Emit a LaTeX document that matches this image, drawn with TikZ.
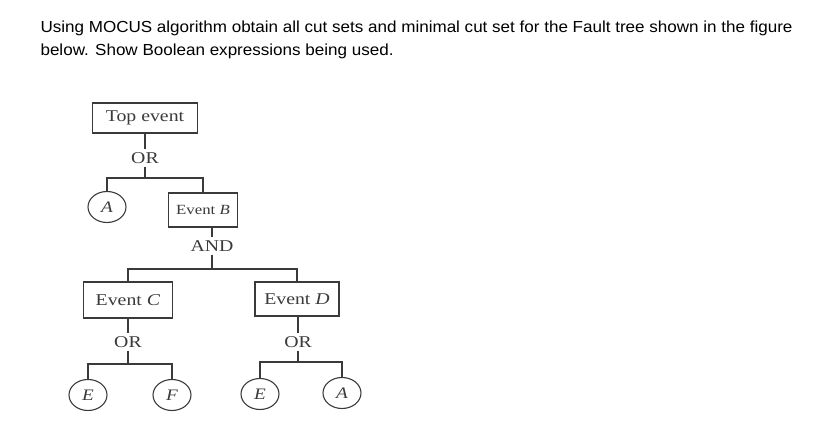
\documentclass[tikz,border=0pt]{standalone}
\usepackage{fontspec}
\setmainfont[FakeStretch=1.065]{Liberation Sans}
\newfontfamily\treefont[FakeStretch=1.2]{Liberation Serif}
\usetikzlibrary{shapes.geometric}
\tikzset{
every picture/.style={
line width=1.1bp
}}
\definecolor{scan}{HTML}{3A3A3A}

\begin{document}
\begin{tikzpicture}[x=1bp, y=-1bp,
block/.style = {rectangle, draw=scan, inner sep=0pt, font=\treefont\fontsize{16.5bp}{18bp}\selectfont, text=scan},
gate/.style = {inner sep=2.5bp, font=\treefont\fontsize{16.5bp}{18bp}\selectfont, text=scan},
basic/.style = {ellipse, draw=scan, inner sep=0pt, minimum width=38bp, minimum height=31bp, font=\treefont\itshape\fontsize{16bp}{18bp}\selectfont, text=scan}]
\useasboundingbox (0,0) rectangle (839,436);

\node[anchor=base west, align=left, inner sep=0pt, font=\fontsize{16bp}{23.5bp}\selectfont] at (40,56) (question)
  {Using MOCUS algorithm obtain all cut sets and minimal cut set for the Fault tree shown in the figure\\
   below. Show Boolean expressions being used.};

\node[block, minimum width=105bp, minimum height=30bp] at (145,118) (top) {Top event};
\node[gate] at (145,158) (or1) {OR};
\coordinate (j1) at (145,178);
\node[basic] at (107,207) (a1) {A};
\node[block, minimum width=69bp, minimum height=34bp, font=\treefont\fontsize{14bp}{16bp}\selectfont] at (203,210) (evb) {Event \textit{B}};
\node[gate] at (212,246) (and1) {AND};
\coordinate (j2) at (212,269);
\node[block, minimum width=89bp, minimum height=36bp] at (128,300) (evc) {Event \textit{C}};
\node[block, minimum width=84bp, minimum height=34bp] at (297,299) (evd) {Event \textit{D}};
\node[gate] at (128,342) (or2) {OR};
\coordinate (j3) at (128,364);
\node[gate] at (298,342) (or3) {OR};
\coordinate (j4) at (298,362);
\node[basic] at (88,395) (e1) {E};
\node[basic] at (172,395) (f1) {F};
\node[basic] at (260,394) (e2) {E};
\node[basic] at (342,393) (a2) {A};

\draw[scan] (top) -- (or1);
\draw[scan] (or1) -- (j1);
\draw[scan] (a1) |- (j1) -| (evb);
\draw[scan] (evb.south -| and1) -- (and1);
\draw[scan] (and1) -- (j2);
\draw[scan] (evc) |- (j2) -| (evd);
\draw[scan] (evc) -- (or2);
\draw[scan] (or2) -- (j3);
\draw[scan] (e1) |- (j3) -| (f1);
\draw[scan] (evd.south -| or3) -- (or3);
\draw[scan] (or3) -- (j4);
\draw[scan] (e2) |- (j4) -| (a2);
\end{tikzpicture}
\end{document}
